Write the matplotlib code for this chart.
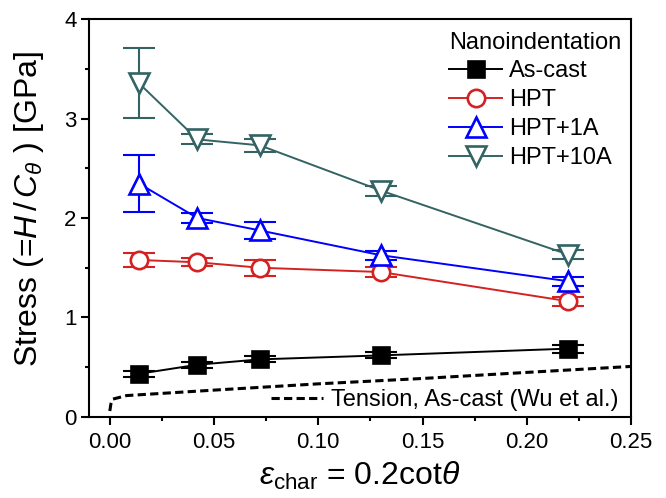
import numpy as np
import matplotlib
matplotlib.use('Agg')
import matplotlib.pyplot as plt
from matplotlib.ticker import FormatStrFormatter

plt.rcParams['font.family'] = ['Liberation Sans', 'DejaVu Sans']
plt.rcParams['mathtext.fontset'] = 'custom'
plt.rcParams['mathtext.rm'] = 'Liberation Sans'
plt.rcParams['mathtext.it'] = 'Liberation Sans:italic'

# characteristic strain of each indenter
eps_char = [0.014, 0.042, 0.072, 0.13, 0.22]

ascast = [0.434, 0.525, 0.579, 0.619, 0.687]
ascast_err = [0.03, 0.03, 0.03, 0.03, 0.04]
hpt = [1.578, 1.555, 1.50, 1.457, 1.163]
hpt_err = [0.072, 0.04, 0.08, 0.047, 0.047]
hpt1a = [2.346, 2.0, 1.875, 1.626, 1.364]
hpt1a_err = [0.286, 0.05, 0.084, 0.047, 0.047]
hpt10a = [3.354, 2.79, 2.73, 2.276, 1.632]
hpt10a_err = [0.35, 0.05, 0.064, 0.05, 0.047]

# tension curve (Wu et al.)
tens_x = [0.0, 0.0005, 0.0015, 0.008, 0.05, 0.10, 0.15, 0.20, 0.25]
tens_y = [0.06, 0.13, 0.18, 0.215, 0.27, 0.333, 0.387, 0.448, 0.508]

series = [
    ('As-cast', ascast, ascast_err, 'black', 's', 'black', 11),
    ('HPT', hpt, hpt_err, '#d42222', 'o', 'white', 12.5),
    ('HPT+1A', hpt1a, hpt1a_err, '#0000ff', '^', 'white', 14),
    ('HPT+10A', hpt10a, hpt10a_err, '#336363', 'v', 'white', 14),
]

fig = plt.figure(figsize=(6.66, 4.98), dpi=100)
ax = fig.add_axes([0.1336, 0.1627, 0.8138, 0.7991])

handles = []
for name, vals, err, col, mk, fc, ms in series:
    ax.errorbar(eps_char, vals, yerr=err, fmt='none', ecolor=col,
                elinewidth=1.5, capsize=11.5, capthick=1.5, zorder=2)
    h, = ax.plot(eps_char, vals, color=col, lw=1.4, marker=mk, ms=ms,
                 mfc=fc, mec=col, mew=1.9, zorder=3, label=name)
    handles.append(h)

t, = ax.plot(tens_x, tens_y, color='black', ls='--', lw=2.2, dashes=(2.7, 1.4),
             label='Tension, As-cast (Wu et al.)')

leg = ax.legend(handles=handles, loc='upper right', frameon=False,
                title='Nanoindentation', title_fontsize=17, fontsize=17,
                alignment='left', handlelength=2.25, handletextpad=0.28,
                labelspacing=0.29, borderaxespad=0, bbox_to_anchor=(1.0, 0.992))
ax.add_artist(leg)
ax.legend(handles=[t], loc='lower right', frameon=False, fontsize=17,
          handlelength=2.2, handletextpad=0.35, borderaxespad=0,
          bbox_to_anchor=(0.994, -0.009))

ax.set_xlim(-0.01, 0.25)
ax.set_ylim(0, 4)
ax.set_xticks(np.arange(0, 0.26, 0.05))
ax.set_xticks(np.arange(0, 0.26, 0.025), minor=True)
ax.set_yticks([0, 1, 2, 3, 4])
ax.set_yticks(np.arange(0, 4.1, 0.5), minor=True)
ax.xaxis.set_major_formatter(FormatStrFormatter('%.2f'))
ax.tick_params(which='major', direction='out', length=5.5, width=1.5, labelsize=16,
               top=False, right=False)
ax.tick_params(which='minor', direction='out', length=3, width=1.5,
               top=False, right=False)
ax.tick_params(axis='x', which='major', pad=5)
ax.tick_params(axis='y', which='major', pad=3.5)
for s in ax.spines.values():
    s.set_linewidth(1.5)

ax.set_xlabel(r'$\varepsilon_{\rm char}$ = 0.2cot$\theta$', fontsize=23, labelpad=5)
ax.set_ylabel(r'Stress (=$H\,/\,C_\theta$ ) [GPa]', fontsize=23)
ax.yaxis.set_label_coords(-0.079, 0.522)

fig.savefig('out.png', dpi=100)
